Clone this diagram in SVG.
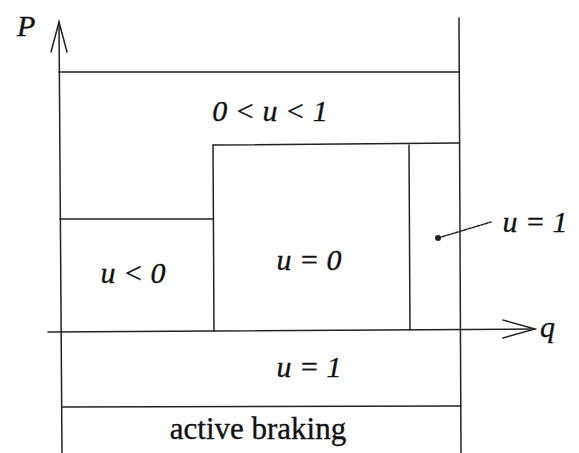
<svg xmlns="http://www.w3.org/2000/svg" width="579" height="453" viewBox="0 0 579 453">
  <style>
    .ln { stroke: #222; stroke-width: 1.5; fill: none; stroke-linecap: round; }
    text { fill: #111; stroke: #111; stroke-width: 0.35; }
    .math { font-family: "Liberation Serif", "Times New Roman", serif; font-style: italic; font-size: 30px; }
    .rm { font-family: "Liberation Serif", "Times New Roman", serif; font-size: 31px; }
  </style>
  <rect width="579" height="453" fill="#fff"/>

  <!-- axes -->
  <g id="axes">
    <line class="ln" x1="59" y1="22" x2="62" y2="453"/>
    <polyline class="ln" points="51,52 59,22 67,52"/>
    <line class="ln" x1="48" y1="332" x2="535" y2="329"/>
    <polyline class="ln" points="503,320 535,329 503,338"/>
    <text class="math" x="17" y="36">P</text>
    <text class="math" x="540" y="337">q</text>
  </g>

  <!-- region boundaries -->
  <g id="connectors">
    <line class="ln" x1="459" y1="18" x2="461" y2="453"/>
    <line class="ln" x1="59" y1="72" x2="459" y2="72"/>
    <line class="ln" x1="213" y1="145" x2="459" y2="143"/>
    <line class="ln" x1="60" y1="219" x2="213" y2="219"/>
    <line class="ln" x1="213" y1="145" x2="214" y2="331"/>
    <line class="ln" x1="409" y1="145" x2="410" y2="330"/>
    <line class="ln" x1="62" y1="407" x2="461" y2="406"/>
    <line class="ln" x1="438" y1="238" x2="491" y2="222" stroke-dasharray="3 1.5"/>
    <circle cx="438" cy="238" r="3" fill="#222"/>
  </g>

  <g id="region-partial">
    <text class="math" x="270" y="121" text-anchor="middle">0 &lt; u &lt; 1</text>
  </g>
  <g id="region-negative">
    <text class="math" x="133" y="283" text-anchor="middle">u &lt; 0</text>
  </g>
  <g id="region-zero">
    <text class="math" x="309" y="270" text-anchor="middle">u = 0</text>
  </g>
  <g id="region-full-right">
    <text class="math" x="535" y="232" text-anchor="middle">u = 1</text>
  </g>
  <g id="region-full-low">
    <text class="math" x="309" y="377" text-anchor="middle">u = 1</text>
  </g>
  <g id="region-braking">
    <text class="rm" x="258" y="439" text-anchor="middle">active braking</text>
  </g>
</svg>
